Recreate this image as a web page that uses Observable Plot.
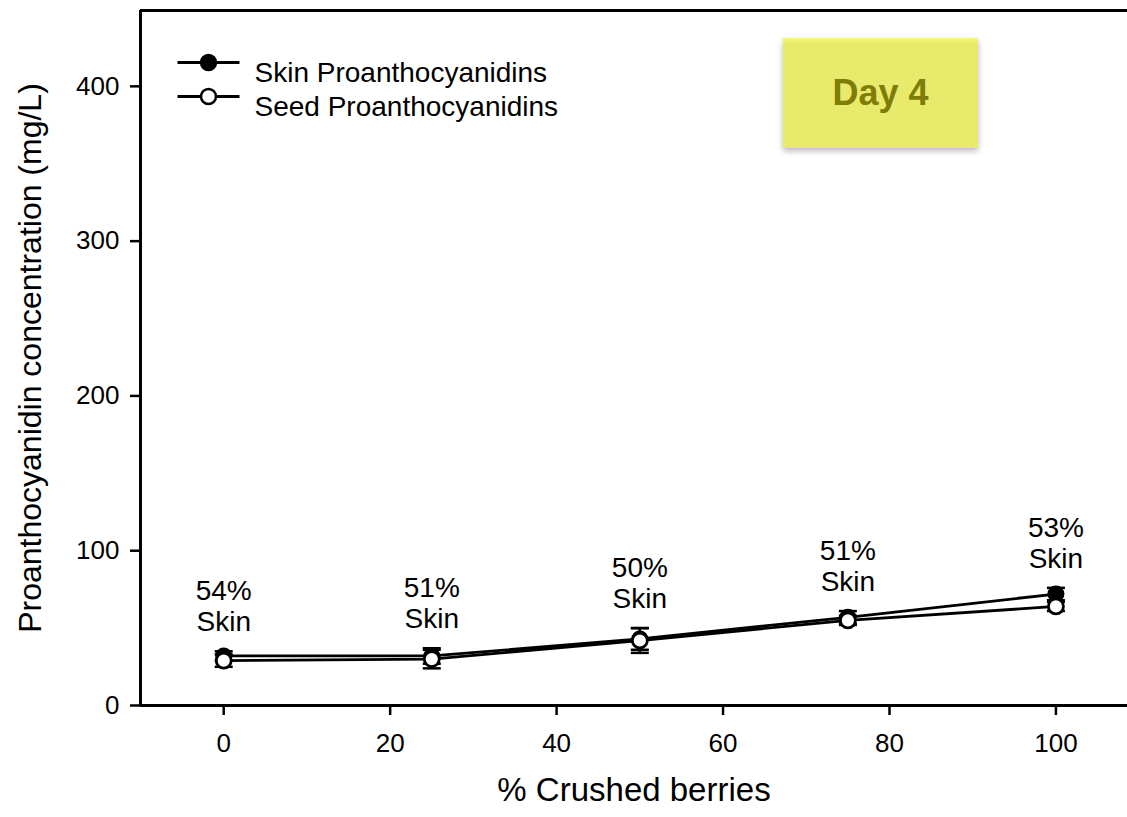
<!DOCTYPE html>
<html>
<head>
<meta charset="utf-8">
<script src="https://cdn.jsdelivr.net/npm/d3@7"></script>
<script src="https://cdn.jsdelivr.net/npm/@observablehq/plot@0.6"></script>
<style>
  html, body { margin: 0; padding: 0; background: #fff; }
  #wrap { position: relative; width: 1127px; height: 817px; overflow: hidden; font-family: "Liberation Sans", Arial, Helvetica, sans-serif; }
  #day { position: absolute; left: 783px; top: 38px; width: 195px; height: 110px;
         background: linear-gradient(#f6f67c 0px, #e9e96b 6px, #e9e96b 100%);
         box-shadow: 0 3px 6px rgba(0,0,0,0.28);
         color: #7d7d08; font-weight: bold; font-size: 36px;
         display: flex; align-items: center; justify-content: center; }
</style>
</head>
<body>
<div id="wrap"><div id="day">Day 4</div></div>
<script>
// ---- data ----
const crushed = [0, 25, 50, 75, 100];
const skinValues = [32, 32, 43, 57, 72];
const skinErr = [3, 5, 7, 4, 4];
const seedValues = [29, 30, 42, 55, 64];
const seedErr = [4, 6, 8, 3, 3];
const skinPctLabels = ["54%", "51%", "50%", "51%", "53%"];
const xTicks = [0, 20, 40, 60, 80, 100];
const yTicks = [0, 100, 200, 300, 400];
const xDomain = [-10, 108.6];
const yDomain = [0, 449];
const seriesNames = ["Skin Proanthocyanidins", "Seed Proanthocyanidins"];
const seriesFill = ["black", "white"];

const skin = crushed.map((x, i) => ({x, y: skinValues[i], e: skinErr[i]}));
const seed = crushed.map((x, i) => ({x, y: seedValues[i], e: seedErr[i]}));
const labels = crushed.map((x, i) => ({
  x, top: Math.max(skinValues[i] + skinErr[i], seedValues[i] + seedErr[i]),
  text: skinPctLabels[i] + "\nSkin"
}));

const hSeg = (half) => ({ draw(ctx) { ctx.moveTo(-half, 0); ctx.lineTo(half, 0); } });
const cap = hSeg(9);
const legendLine = hSeg(31);

function errMarks(data) {
  return [
    Plot.ruleX(data, {x: "x", y1: d => d.y - d.e, y2: d => d.y + d.e, stroke: "black", strokeWidth: 2.5}),
    Plot.dot(data, {x: "x", y: d => d.y + d.e, symbol: cap, r: 5, stroke: "black", strokeWidth: 2.5, fill: "none"}),
    Plot.dot(data, {x: "x", y: d => d.y - d.e, symbol: cap, r: 5, stroke: "black", strokeWidth: 2.5, fill: "none"})
  ];
}

function legendRow(i, dy) {
  const name = [seriesNames[i]];
  return [
    Plot.dot(name, {frameAnchor: "top-left", dx: 68, dy, symbol: legendLine, r: 5, stroke: "black", strokeWidth: 2.8, fill: "none"}),
    Plot.dot(name, {frameAnchor: "top-left", dx: 68, dy, r: 7.5, fill: seriesFill[i], stroke: "black", strokeWidth: 2.5}),
    Plot.text(name, {frameAnchor: "top-left", dx: 114, dy, textAnchor: "start", fontSize: 28, fill: "black"})
  ];
}

const chart = Plot.plot({
  width: 1127,
  height: 817,
  marginLeft: 140,
  marginTop: 10,
  marginRight: 0,
  marginBottom: 112,
  style: {fontFamily: "'Liberation Sans', Arial, Helvetica, sans-serif", color: "black", background: "transparent"},
  x: {domain: xDomain},
  y: {domain: yDomain},
  marks: [
    Plot.axisY({ticks: yTicks, tickSize: 10, tickPadding: 11, fontSize: 26, label: null, strokeWidth: 2.5}),
    Plot.axisX({ticks: xTicks, tickSize: 10, tickPadding: 18, fontSize: 26, label: null, strokeWidth: 2.5}),
    Plot.ruleX([xDomain[0]], {stroke: "black", strokeWidth: 3}),
    Plot.ruleY([yDomain[0]], {stroke: "black", strokeWidth: 3}),
    Plot.ruleY([yDomain[1]], {stroke: "black", strokeWidth: 3}),
    Plot.line(skin, {x: "x", y: "y", stroke: "black", strokeWidth: 2.8}),
    Plot.line(seed, {x: "x", y: "y", stroke: "black", strokeWidth: 2.8}),
    ...errMarks(skin),
    Plot.dot(skin, {x: "x", y: "y", r: 7.5, fill: "black", stroke: "black", strokeWidth: 2}),
    ...errMarks(seed),
    Plot.dot(seed, {x: "x", y: "y", r: 7.5, fill: "white", stroke: "black", strokeWidth: 2.8}),
    Plot.text(labels, {x: "x", y: "top", text: "text", lineAnchor: "bottom", dy: -20, fontSize: 28, lineHeight: 1.12, fill: "black"}),
    ...legendRow(0, 52),
    ...legendRow(1, 86),
    Plot.text(["Proanthocyanidin concentration (mg/L)"], {frameAnchor: "left", textAnchor: "middle", dx: -110, rotate: -90, fontSize: 32, fill: "black"}),
    Plot.text(["% Crushed berries"], {frameAnchor: "bottom", dy: 95, fontSize: 33, fill: "black"})
  ]
});
document.getElementById("wrap").appendChild(chart);
</script>
</body>
</html>
